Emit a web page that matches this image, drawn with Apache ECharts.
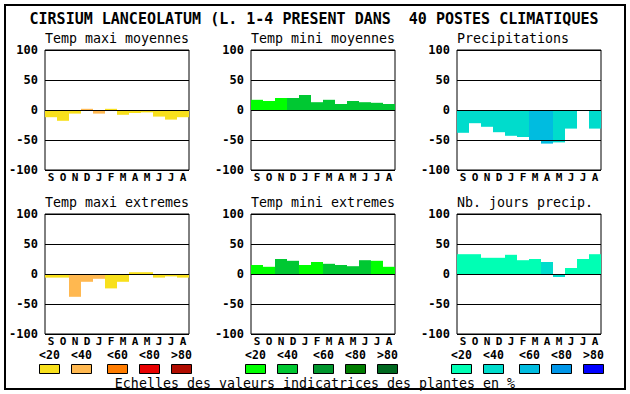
<!DOCTYPE html>
<html>
<head>
<meta charset="utf-8">
<script src="https://cdn.jsdelivr.net/npm/echarts@6/dist/echarts.min.js"></script>
<style>html,body{margin:0;padding:0;background:#fff;}#c{width:630px;height:394px;}</style>
</head>
<body>
<div id="c"></div>
<script>
// ---- data ----
const months = ['S','O','N','D','J','F','M','A','M','J','J','A'];
const yMin = -100, yMax = 100, yStep = 50;
const classLabels = ['<20','<40','<60','<80','>80'];
const mainTitle = 'CIRSIUM LANCEOLATUM (L. 1-4 PRESENT DANS  40 POSTES CLIMATIQUES';
const footerText = 'Echelles des valeurs indicatrices des plantes en %';

const tMaxMoyTitle = 'Temp maxi moyennes';
const tMaxMoyValues = [-12,-18,-6,2,-6,2,-8,-5,-4,-11,-16,-12];
const tMaxMoyClass  = [0,0,0,1,1,0,0,0,0,0,0,0];

const tMinMoyTitle = 'Temp mini moyennes';
const tMinMoyValues = [17,15,20,20,25,13,17,10,15,13,12,10];
const tMinMoyClass  = [0,0,0,1,1,1,1,1,1,1,1,1];

const precTitle = 'Precipitations';
const precValues = [-38,-22,-28,-37,-43,-45,-50,-56,-54,-31,0,-31];
const precClass  = [1,1,1,1,1,1,2,2,1,1,1,1];

const tMaxExtTitle = 'Temp maxi extremes';
const tMaxExtValues = [-6,-6,-38,-13,-8,-24,-13,3,3,-6,-4,-6];
const tMaxExtClass  = [0,0,1,1,1,0,0,0,0,0,0,0];

const tMinExtTitle = 'Temp mini extremes';
const tMinExtValues = [15,12,25,22,15,20,17,15,13,23,22,12];
const tMinExtClass  = [0,0,1,1,0,0,1,1,1,1,0,0];

const nbJTitle = 'Nb. jours precip.';
const nbJValues = [33,33,27,27,32,23,25,20,-5,10,25,33];
const nbJClass  = [0,0,0,0,0,0,0,1,1,0,0,0];

const warmColors = ['#f8e01c','#ffb850','#ff7c00','#e80000','#b00c00'];
const greenColors = ['#00ff00','#00c832','#00962d','#007d00','#006820'];
const blueColors = ['#00ffb4','#00dccc','#00bce0','#0096e8','#0000ff'];

// ---- layout ----
const colX = [45, 251, 457];
const rowY = [50, 214];
const plotW = 144, plotH = 120;
const mono = 'DejaVu Sans Mono';

const panels = [
  {title: tMaxMoyTitle, values: tMaxMoyValues, cls: tMaxMoyClass, pal: warmColors, col: 0, row: 0},
  {title: tMinMoyTitle, values: tMinMoyValues, cls: tMinMoyClass, pal: greenColors, col: 1, row: 0},
  {title: precTitle, values: precValues, cls: precClass, pal: blueColors, col: 2, row: 0},
  {title: tMaxExtTitle, values: tMaxExtValues, cls: tMaxExtClass, pal: warmColors, col: 0, row: 1},
  {title: tMinExtTitle, values: tMinExtValues, cls: tMinExtClass, pal: greenColors, col: 1, row: 1},
  {title: nbJTitle, values: nbJValues, cls: nbJClass, pal: blueColors, col: 2, row: 1}
];

const boldSmall = {fontFamily: mono, fontWeight: 'bold', fontSize: 11, lineHeight: 11, color: '#000'};

const grids = [], xAxes = [], yAxes = [], series = [];
const graphics = [];

graphics.push({type: 'rect', shape: {x: 5, y: 5, width: 620, height: 384},
  style: {fill: 'none', stroke: '#000', lineWidth: 2}, z: 100});
graphics.push({type: 'text', x: 314, y: 18.5, z: 100,
  style: {text: mainTitle, font: '600 15px "' + mono + '"', fill: '#000', textAlign: 'center', textVerticalAlign: 'middle'}});
graphics.push({type: 'text', x: 315, y: 383, z: 100,
  style: {text: footerText, font: '13.3px "' + mono + '"', fill: '#000', textAlign: 'center', textVerticalAlign: 'middle'}});

panels.forEach((p, i) => {
  const left = colX[p.col], top = rowY[p.row];
  grids.push({left: left, top: top, width: plotW, height: plotH, show: true,
    borderColor: '#000', borderWidth: 1, backgroundColor: 'transparent', containLabel: false});
  xAxes.push({gridIndex: i, type: 'category', data: months, position: 'bottom',
    axisLine: {show: false}, axisTick: {show: false}, splitLine: {show: false},
    axisLabel: Object.assign({interval: 0, margin: 2}, boldSmall)});
  yAxes.push({gridIndex: i, type: 'value', min: yMin, max: yMax, interval: yStep, z: 5,
    axisLine: {show: false}, axisTick: {show: false},
    splitLine: {show: true, lineStyle: {color: '#000', width: 1}},
    axisLabel: Object.assign({margin: 7}, boldSmall, {fontSize: 12, lineHeight: 12})});
  series.push({type: 'bar', xAxisIndex: i, yAxisIndex: i, barCategoryGap: '0%', barGap: '0%',
    silent: true, animation: false,
    data: p.values.map((v, k) => ({value: v, itemStyle: {color: p.pal[p.cls[k]]}}))});
  graphics.push({type: 'text', x: left, y: top - 11.5, z: 100,
    style: {text: p.title, font: '13.3px "' + mono + '"', fill: '#000', textAlign: 'left', textVerticalAlign: 'middle'}});
});

// legend swatches (one group per palette column)
const palettes = [warmColors, greenColors, blueColors];
const boxOffsets = [0, 32, 68, 100, 132];
const legendX0 = [39, 245, 451];
palettes.forEach((pal, g) => {
  pal.forEach((c, k) => {
    const bx = legendX0[g] + boxOffsets[k];
    graphics.push({type: 'rect', z: 100, shape: {x: bx + 0.5, y: 364.5, width: 20, height: 9},
      style: {fill: c, stroke: '#000', lineWidth: 1}});
    graphics.push({type: 'text', x: bx + 10.5, y: 354.5, z: 100,
      style: {text: classLabels[k], font: 'bold 11.5px "' + mono + '"', fill: '#000', textAlign: 'center', textVerticalAlign: 'middle'}});
  });
});

const chart = echarts.init(document.getElementById('c'), null, {renderer: 'svg', width: 630, height: 394});
chart.setOption({
  animation: false,
  backgroundColor: '#fff',
  grid: grids, xAxis: xAxes, yAxis: yAxes, series: series,
  graphic: graphics
});
</script>
</body>
</html>
